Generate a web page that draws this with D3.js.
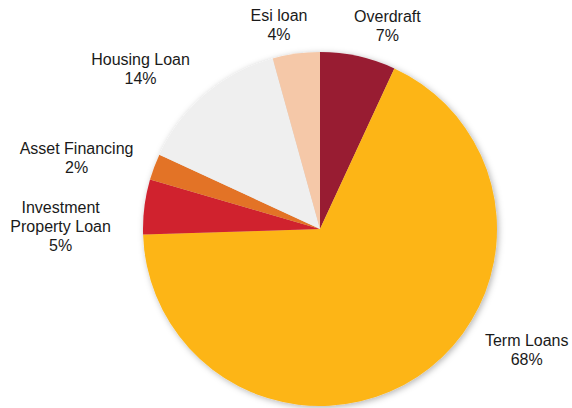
<!DOCTYPE html>
<html>
<head>
<meta charset="utf-8">
<script src="https://cdn.jsdelivr.net/npm/d3@7"></script>
<style>
  html, body { margin: 0; padding: 0; background: #fff; }
  svg { display: block; }
  text { font-family: "Liberation Sans", Arial, Helvetica, sans-serif; font-size: 16px; fill: #1a1a1a; }
</style>
</head>
<body>
<svg id="chart" width="572" height="408"></svg>
<script>
// Loan portfolio mix (% of total), clockwise from 12 o'clock
const categories = ["Overdraft", "Term Loans", "Investment Property Loan", "Asset Financing", "Housing Loan", "Esi loan"];
const shares = [6.9, 67.6, 5.0, 2.4, 13.8, 4.3];
const colors = ["#981B32", "#FDB515", "#D0202F", "#E37326", "#EFEFEF", "#F5C8A8"];
// how each label wraps onto lines
const labelLines = [["Overdraft"], ["Term Loans"], ["Investment", "Property Loan"], ["Asset Financing"], ["Housing Loan"], ["Esi loan"]];

const W = 572, H = 408;
const cx = 320, cy = 229, R = 177;
const lineH = 19;

const svg = d3.select("#chart");
const defs = svg.append("defs");
const f = defs.append("filter").attr("id", "pieShadow")
  .attr("x", "-10%").attr("y", "-10%").attr("width", "120%").attr("height", "120%");
f.append("feDropShadow").attr("dx", 1.5).attr("dy", 1.5)
  .attr("stdDeviation", 3).attr("flood-color", "#000").attr("flood-opacity", 0.3);

const data = categories.map((c, i) => ({ name: c, value: shares[i], color: colors[i], lines: labelLines[i] }));

const pie = d3.pie().value(d => d.value).sort(null);
const arc = d3.arc().innerRadius(0).outerRadius(R);
const arcs = pie(data);

const g = svg.append("g").attr("transform", `translate(${cx},${cy})`);

g.append("g").attr("filter", "url(#pieShadow)")
  .selectAll("path").data(arcs).join("path")
  .attr("d", arc)
  .attr("fill", d => d.data.color);

// Labels sit just outside each slice, pushed off the rim, then nudged apart
const labelGap = 10;
const nudge = {
  "Overdraft": [20, -2],
  "Term Loans": [80.5, -51],
  "Investment Property Loan": [-24, 24],
  "Asset Financing": [-15, 0.5],
  "Housing Loan": [-26.5, -3],
  "Esi loan": [-12, 0]
};
const pct = d3.format(".0f");

const labels = svg.append("g");
arcs.forEach(a => {
  const d = a.data;
  const allLines = d.lines.concat([pct(d.value) + "%"]);
  const mid = (a.startAngle + a.endAngle) / 2;
  const ux = Math.sin(mid), uy = -Math.cos(mid);
  // rough box size for pushing the label clear of the pie
  const tmp = labels.append("text").text(d.lines.reduce((m, s) => s.length > m.length ? s : m, ""));
  const w = tmp.node().getComputedTextLength();
  tmp.remove();
  const h = allLines.length * lineH;
  const ax = cx + (R + labelGap) * ux, ay = cy + (R + labelGap) * uy;
  const n = nudge[d.name] || [0, 0];
  const lx = ax + ux * w / 2 + n[0];
  const ly = ay + uy * h / 2 + n[1];
  const t = labels.append("text").attr("text-anchor", "middle");
  allLines.forEach((s, i) => {
    t.append("tspan")
      .attr("x", lx)
      .attr("y", ly - h / 2 + lineH * (i + 0.5))
      .attr("dy", "0.36em")
      .text(s);
  });
});
</script>
</body>
</html>
